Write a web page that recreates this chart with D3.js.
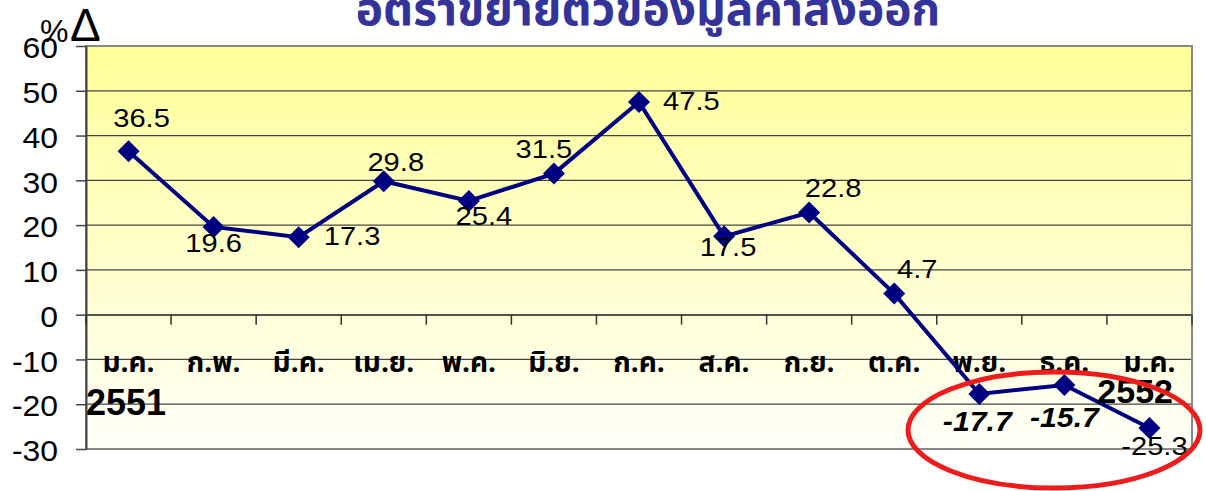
<!DOCTYPE html>
<html>
<head>
<meta charset="utf-8">
<script src="https://cdn.jsdelivr.net/npm/d3@7"></script>
<style>
  body { margin: 0; background: #fff; }
  svg { display: block; }
</style>
</head>
<body>
<svg id="chart" width="1206" height="491"></svg>
<script>
const months = ["ม.ค.", "ก.พ.", "มี.ค.", "เม.ย.", "พ.ค.", "มิ.ย.", "ก.ค.", "ส.ค.", "ก.ย.", "ต.ค.", "พ.ย.", "ธ.ค.", "ม.ค."];
const growth = [36.5, 19.6, 17.3, 29.8, 25.4, 31.5, 47.5, 17.5, 22.8, 4.7, -17.7, -15.7, -25.3];
const yTicks = [-30, -20, -10, 0, 10, 20, 30, 40, 50, 60];
// where each value label sits relative to its point: [dx, baseline dy, anchor]
const labelPos = [
  [13, -24, "middle"], [0, 25, "middle"], [25, 8, "start"], [12, -10, "middle"],
  [15, 24, "middle"], [-10, -16, "middle"], [24, 8, "start"], [4, 20, "middle"],
  [24, -16, "middle"], [23, -16, "middle"], [-2, 37, "middle"], [0, 42, "middle"], [5, 27, "middle"]
];
const emphasised = [10, 11];

const svg = d3.select("#chart");
const plot = { left: 86, right: 1192, top: 46, bottom: 449 };
const sans = "Liberation Sans, Arial, sans-serif";
const thai = "Tahoma, Noto Sans Thai, Noto Sans, sans-serif";

const x = d3.scaleBand().domain(d3.range(months.length)).range([plot.left, plot.right]).padding(0);
const y = d3.scaleLinear().domain([-30, 60]).range([plot.bottom, plot.top]);
const cx = i => x(i) + x.bandwidth() / 2;

const defs = svg.append("defs");
const grad = defs.append("linearGradient").attr("id", "bg").attr("x1", 0).attr("y1", 0).attr("x2", 0).attr("y2", 1);
grad.append("stop").attr("offset", "0%").attr("stop-color", "#ffff99");
grad.append("stop").attr("offset", "100%").attr("stop-color", "#fffff8");

svg.append("rect")
  .attr("x", plot.left).attr("y", plot.top).attr("width", plot.right - plot.left).attr("height", plot.bottom - plot.top)
  .attr("fill", "url(#bg)");

// gridlines
svg.append("g")
  .selectAll("line").data(yTicks.filter(d => d > -30 && d < 60)).join("line")
  .attr("x1", plot.left).attr("x2", plot.right)
  .attr("y1", d => y(d)).attr("y2", d => y(d))
  .attr("stroke", "#444").attr("stroke-width", 1.3);

// plot border
svg.append("rect")
  .attr("x", plot.left).attr("y", plot.top).attr("width", plot.right - plot.left).attr("height", plot.bottom - plot.top)
  .attr("fill", "none").attr("stroke", "#888").attr("stroke-width", 2);

// y axis (ticks from d3, labels drawn by hand so they can be widened a little)
const yAxis = svg.append("g")
  .attr("transform", `translate(${plot.left},0)`)
  .call(d3.axisLeft(y).tickValues(yTicks).tickSize(10).tickFormat("").tickSizeOuter(0));
yAxis.select(".domain").attr("stroke", "#444").attr("stroke-width", 2);
yAxis.selectAll(".tick line").attr("stroke", "#444").attr("stroke-width", 1.5);

svg.append("g").selectAll("text").data(yTicks).join("text")
  .attr("transform", d => `translate(58,${y(d)}) scale(1.1,1)`)
  .attr("dy", "0.42em")
  .attr("text-anchor", "end")
  .attr("font-family", sans).attr("font-size", 29)
  .text(d => d);

// category axis at zero
const xAxis = svg.append("g")
  .attr("transform", `translate(0,${y(0)})`)
  .call(d3.axisBottom(x).tickValues([]).tickSizeOuter(0));
xAxis.select(".domain").attr("stroke", "#555").attr("stroke-width", 1.5);
xAxis.selectAll("line.cat").data(d3.range(months.length + 1)).join("line")
  .attr("class", "cat")
  .attr("x1", i => plot.left + i * x.step()).attr("x2", i => plot.left + i * x.step())
  .attr("y1", 0).attr("y2", 10)
  .attr("stroke", "#333").attr("stroke-width", 1.5);

svg.append("g").selectAll("text").data(months).join("text")
  .attr("x", (d, i) => cx(i))
  .attr("y", y(-10) + 13)
  .attr("text-anchor", "middle")
  .attr("font-family", thai)
  .attr("font-weight", "bold").attr("font-size", 28)
  .text(d => d);

// line and markers
svg.append("path")
  .datum(growth)
  .attr("fill", "none").attr("stroke", "#000080").attr("stroke-width", 4)
  .attr("d", d3.line().x((d, i) => cx(i)).y(d => y(d)));

svg.append("g").selectAll("path").data(growth).join("path")
  .attr("transform", (d, i) => `translate(${cx(i)},${y(d)})`)
  .attr("d", "M0,-11L11,0L0,11L-11,0Z")
  .attr("fill", "#000080");

// value labels
svg.append("g").selectAll("text").data(growth).join("text")
  .attr("transform", (d, i) => `translate(${cx(i) + labelPos[i][0]},${y(d) + labelPos[i][1]}) scale(1.12,1)`)
  .attr("text-anchor", (d, i) => labelPos[i][2])
  .attr("font-family", sans)
  .attr("font-size", (d, i) => emphasised.includes(i) ? 27 : 26)
  .attr("font-weight", (d, i) => emphasised.includes(i) ? "bold" : "normal")
  .attr("font-style", (d, i) => emphasised.includes(i) ? "italic" : "normal")
  .text(d => d.toFixed(1));

// year labels
svg.append("text").attr("x", plot.left).attr("y", 415)
  .attr("font-family", sans).attr("font-weight", "bold").attr("font-size", 36)
  .text("2551");
svg.append("text").attr("x", 1173).attr("y", 403).attr("text-anchor", "end")
  .attr("font-family", sans).attr("font-weight", "bold").attr("font-size", 34)
  .text("2552");

// unit label
svg.append("text").attr("x", 40).attr("y", 42)
  .attr("font-family", sans).attr("font-size", 32)
  .text("%");
svg.append("text").attr("x", 70).attr("y", 41)
  .attr("font-family", sans).attr("font-size", 46)
  .text("Δ");

// title
svg.append("text").attr("x", 648).attr("y", 25).attr("text-anchor", "middle")
  .attr("font-family", thai)
  .attr("font-weight", "bold").attr("font-size", 46).attr("fill", "#333399")
  .text("อัตราขยายตัวของมูลค่าส่งออก");

// highlight ring
svg.append("ellipse")
  .attr("cx", 1054).attr("cy", 430).attr("rx", 146).attr("ry", 58)
  .attr("fill", "none").attr("stroke", "#ee1c1c").attr("stroke-width", 5);
</script>
</body>
</html>
